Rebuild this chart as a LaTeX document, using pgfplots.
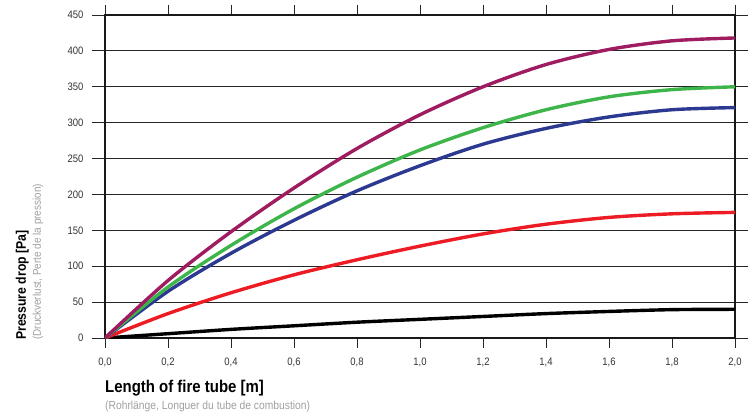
\documentclass[border=0pt]{standalone}
\usepackage{fontspec}
\setmainfont{Liberation Sans}[FakeStretch=0.88]
\usepackage{pgfplots}
\pgfplotsset{compat=1.18}
\definecolor{cpurple}{HTML}{9E1C5F}
\definecolor{cgreen}{HTML}{3DB54A}
\definecolor{cblue}{HTML}{2B3990}
\definecolor{cred}{HTML}{ED1C24}
\definecolor{cgrey}{HTML}{A0A0A0}
\begin{document}
\begin{tikzpicture}
\begin{axis}[
  scale only axis,
  width=630pt, height=323pt,
  xmin=0, xmax=2, ymin=0, ymax=450,
  xtick={0,0.2,...,2.01},
  ytick={0,50,...,450},
  tick align=outside,
  major tick length=13pt,
  xtick style={/pgfplots/major tick length=10pt},
  ymajorgrids,
  grid style={black!85, line width=0.8pt},
  tick style={black!85, line width=0.8pt},
  axis line style={line width=1.6pt, black!90},
  /pgf/number format/assume math mode=true,
  tick label style={font=\fontsize{10.8}{12}\selectfont, text=black!80},
  yticklabel style={xshift=-5pt},
  xticklabel style={yshift=-3.5pt, /pgf/number format/.cd, fixed, fixed zerofill, precision=1, use comma},
  every axis plot/.append style={line width=3.4pt, smooth, tension=0.5},
]
\addplot[black] coordinates {(0,0) (0.2,6) (0.4,12) (0.6,17) (0.8,22) (1.0,26) (1.2,30) (1.4,34) (1.6,37) (1.8,39.5) (2.0,40)};
\addplot[cred] coordinates {(0,0) (0.2,34) (0.4,63) (0.6,88) (0.8,109) (1.0,128) (1.2,145) (1.4,158.5) (1.6,168) (1.8,173) (2.0,175)};
\addplot[cblue] coordinates {(0,0) (0.2,65) (0.4,118) (0.6,164) (0.8,205) (1.0,240) (1.2,270) (1.4,292) (1.6,308) (1.8,318) (2.0,321)};
\addplot[cgreen] coordinates {(0,0) (0.2,71) (0.4,129) (0.6,180) (0.8,224) (1.0,262) (1.2,293) (1.4,318) (1.6,336) (1.8,346) (2.0,350)};
\addplot[cpurple] coordinates {(0,0) (0.2,80) (0.4,148) (0.6,209) (0.8,264) (1.0,311) (1.2,350) (1.4,381) (1.6,402) (1.8,414) (2.0,418)};
\coordinate (bl) at (rel axis cs:0,0);
\coordinate (tr) at (rel axis cs:1,1);
\end{axis}
\node[rotate=90, anchor=base west, inner sep=0pt, font=\bfseries\fontsize{13.9}{16}\selectfont] at ([shift={(-79pt,-2pt)}]bl) {Pressure drop [Pa]};
\node[rotate=90, anchor=base west, inner sep=0pt, text=cgrey, font=\fontsize{11.3}{13}\selectfont] at ([shift={(-64pt,-2pt)}]bl) {(Druckverlust, Perte de la pression)};
\node[anchor=base west, inner sep=0pt, font=\bfseries\fontsize{17}{19}\selectfont] at ([shift={(0pt,-55pt)}]bl) {Length of fire tube [m]};
\node[anchor=base west, inner sep=0pt, text=cgrey, font=\fontsize{11.7}{13}\selectfont] at ([shift={(0pt,-71pt)}]bl) {(Rohrlänge, Longuer du tube de combustion)};
\path ([shift={(-105pt,-74pt)}]bl) rectangle ([shift={(17pt,15pt)}]tr);
\end{tikzpicture}
\end{document}
